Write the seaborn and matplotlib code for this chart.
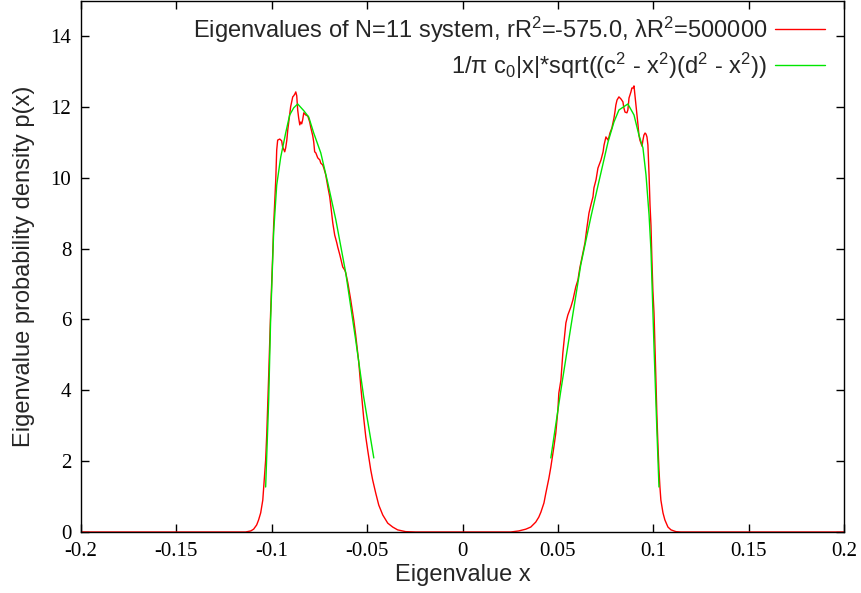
import matplotlib
matplotlib.use("Agg")
import matplotlib.pyplot as plt
import numpy as np
import pandas as pd
import seaborn as sns

# Measured eigenvalue density of the N=11 system (histogram, two bands)
hist_x = [
    -0.2000, -0.1137, -0.1110, -0.1095, -0.1079, -0.1069, -0.1058, -0.1047,
    -0.1042, -0.1032, -0.1026, -0.1016, -0.1006, -0.0995, -0.0990, -0.0979,
    -0.0974, -0.0969, -0.0958, -0.0948, -0.0943, -0.0932, -0.0927, -0.0921,
    -0.0916, -0.0906, -0.0901, -0.0890, -0.0885, -0.0879, -0.0874, -0.0869,
    -0.0864, -0.0859, -0.0853, -0.0848, -0.0843, -0.0838, -0.0832, -0.0822,
    -0.0811, -0.0801, -0.0796, -0.0785, -0.0780, -0.0775, -0.0769, -0.0759,
    -0.0748, -0.0743, -0.0733, -0.0727, -0.0717, -0.0706, -0.0696, -0.0691,
    -0.0680, -0.0670, -0.0659, -0.0654, -0.0643, -0.0633, -0.0628, -0.0617,
    -0.0612, -0.0601, -0.0586, -0.0570, -0.0560, -0.0544, -0.0533, -0.0518,
    -0.0507, -0.0497, -0.0481, -0.0471, -0.0455, -0.0439, -0.0418, -0.0392,
    -0.0366, -0.0340, -0.0298, -0.0245,
    0.0253, 0.0295, 0.0332, 0.0358, 0.0384, 0.0400, 0.0411, 0.0427,
    0.0437, 0.0453, 0.0463, 0.0479, 0.0489, 0.0500, 0.0505, 0.0516,
    0.0526, 0.0537, 0.0542, 0.0552, 0.0568, 0.0579, 0.0594, 0.0605,
    0.0615, 0.0631, 0.0642, 0.0652, 0.0663, 0.0673, 0.0684, 0.0689,
    0.0700, 0.0710, 0.0726, 0.0737, 0.0742, 0.0752, 0.0763, 0.0768,
    0.0773, 0.0783, 0.0794, 0.0799, 0.0804, 0.0810, 0.0820, 0.0831,
    0.0841, 0.0846, 0.0852, 0.0862, 0.0867, 0.0873, 0.0883, 0.0888,
    0.0894, 0.0899, 0.0904, 0.0909, 0.0915, 0.0920, 0.0925, 0.0930,
    0.0941, 0.0946, 0.0951, 0.0957, 0.0962, 0.0967, 0.0972, 0.0978,
    0.0983, 0.0988, 0.0993, 0.0998, 0.1004, 0.1009, 0.1014, 0.1019,
    0.1025, 0.1030, 0.1035, 0.1040, 0.1051, 0.1061, 0.1077, 0.1093,
    0.1119, 0.1145, 0.2000,
]
hist_p = [
    0.00, 0.00, 0.03, 0.08, 0.20, 0.34, 0.54, 0.90,
    1.27, 2.03, 2.79, 4.43, 6.18, 7.82, 8.66, 9.94,
    10.78, 11.06, 11.09, 11.04, 10.87, 10.73, 10.84, 11.06,
    11.35, 11.77, 12.00, 12.28, 12.31, 12.36, 12.42, 12.31,
    11.91, 11.69, 11.49, 11.57, 11.52, 11.63, 11.83, 11.77,
    11.74, 11.57, 11.43, 11.18, 11.01, 10.73, 10.70, 10.56,
    10.50, 10.41, 10.36, 10.27, 10.08, 9.74, 9.46, 9.23,
    8.72, 8.38, 8.16, 8.04, 7.82, 7.59, 7.48, 7.39,
    7.31, 7.03, 6.55, 5.98, 5.56, 4.80, 4.09, 3.22,
    2.68, 2.31, 1.75, 1.47, 1.10, 0.76, 0.48, 0.25,
    0.14, 0.06, 0.01, 0.00,
    0.00, 0.03, 0.08, 0.14, 0.28, 0.42, 0.56, 0.82,
    1.10, 1.52, 1.83, 2.40, 2.79, 3.44, 3.92, 4.29,
    5.05, 5.62, 5.90, 6.12, 6.35, 6.55, 6.92, 7.11,
    7.45, 7.87, 8.16, 8.58, 9.00, 9.23, 9.46, 9.71,
    9.94, 10.27, 10.50, 10.73, 10.92, 11.15, 11.06, 11.15,
    11.26, 11.40, 11.68, 11.85, 12.05, 12.19, 12.28, 12.22,
    12.14, 11.97, 11.85, 11.83, 11.91, 12.25, 12.42, 12.53,
    12.53, 12.59, 12.33, 12.05, 11.77, 11.49, 11.20, 11.06,
    10.89, 11.06, 11.20, 11.26, 11.23, 11.15, 10.92, 10.08,
    9.23, 8.66, 7.68, 6.83, 6.18, 5.28, 4.29, 3.30,
    2.40, 1.75, 1.27, 0.90, 0.54, 0.34, 0.14, 0.06,
    0.01, 0.00, 0.00,
]

# Fitted density 1/pi c0|x| sqrt((c^2-x^2)(d^2-x^2)), evaluated on each band
fit_left_x = [
    -0.1032, -0.1016, -0.1006, -0.0990, -0.0974, -0.0953, -0.0927, -0.0906,
    -0.0885, -0.0864, -0.0832, -0.0806, -0.0780, -0.0743, -0.0706, -0.0664,
    -0.0612, -0.0560, -0.0518, -0.0465,
]
fit_left_p = [
    1.27, 3.73, 5.98, 8.47, 9.79, 10.58, 11.26, 11.77,
    11.97, 12.08, 11.89, 11.71, 11.26, 10.70, 9.85, 8.81,
    7.31, 5.42, 3.81, 2.09,
]
fit_right_x = [
    0.0463, 0.0516, 0.0568, 0.0620, 0.0673, 0.0710, 0.0763, 0.0794,
    0.0820, 0.0867, 0.0899, 0.0925, 0.0946, 0.0962, 0.0978, 0.0988,
    0.1004, 0.1019, 0.1030,
]
fit_right_p = [
    2.09, 4.01, 5.79, 7.54, 8.89, 9.77, 11.01, 11.57,
    11.91, 12.08, 11.77, 11.20, 10.84, 10.08, 8.95, 7.96,
    5.22, 2.88, 1.27,
]

x_ticks = [-0.2, -0.15, -0.1, -0.05, 0.0, 0.05, 0.1, 0.15, 0.2]
x_tick_labels = ["-0.2", "-0.15", "-0.1", "-0.05", "0", "0.05", "0.1", "0.15", "0.2"]
y_ticks = [0, 2, 4, 6, 8, 10, 12, 14]
y_tick_labels = ["0", "2", "4", "6", "8", "10", "12", "14"]

label_hist = r"Eigenvalues of N=11 system, rR$^2$=-575.0, λR$^2$=500000"
label_fit = r"1/π c$_0$|x|*sqrt((c$^2$ - x$^2$)(d$^2$ - x$^2$))"

hist_df = pd.DataFrame({"x": hist_x, "p": hist_p})
fit_df = pd.DataFrame({
    "x": fit_left_x + fit_right_x,
    "p": fit_left_p + fit_right_p,
    "band": ["left"] * len(fit_left_x) + ["right"] * len(fit_right_x),
})

sns.set_style("ticks")
plt.rcParams["font.family"] = ["Liberation Sans", "DejaVu Sans"]
plt.rcParams["mathtext.fontset"] = "custom"
plt.rcParams["mathtext.rm"] = "Liberation Sans"
plt.rcParams["mathtext.it"] = "Liberation Sans"
plt.rcParams["mathtext.bf"] = "Liberation Sans"

fig = plt.figure(figsize=(8.61, 5.93), dpi=100)
ax = fig.add_axes([81 / 861, 61 / 593, 763 / 861, 531.5 / 593])

sns.lineplot(data=hist_df, x="x", y="p", ax=ax, color="#ff0000",
             linewidth=1.0, estimator=None, sort=False)
sns.lineplot(data=fit_df, x="x", y="p", units="band", ax=ax, color="#00e600",
             linewidth=1.0, estimator=None, sort=False)

lines = ax.get_lines()
ax.legend(handles=[lines[0], lines[1]], labels=[label_hist, label_fit],
          loc="upper right", bbox_to_anchor=(1 - 19 / 763, 1 - 14 / 531.5),
          frameon=False, markerfirst=False,
          alignment="right", fontsize=17, handlelength=2.1,
          handletextpad=0.35, borderaxespad=0.0, borderpad=0.0,
          labelspacing=0.25)

ax.set_xlim(-0.2, 0.2)
ax.set_ylim(0, 15)
ax.set_xticks(x_ticks)
ax.set_xticklabels(x_tick_labels)
ax.set_yticks(y_ticks)
ax.set_yticklabels(y_tick_labels)
ax.tick_params(direction="in", top=True, right=True, length=6, width=1,
               colors="black", pad=7)
for lab in ax.get_xticklabels() + ax.get_yticklabels():
    lab.set_family(["Liberation Serif", "DejaVu Serif"])
    lab.set_fontsize(15)

for side in ["top", "bottom", "left", "right"]:
    ax.spines[side].set_visible(True)
    ax.spines[side].set_color("black")
    ax.spines[side].set_linewidth(1.0)

ax.set_xlabel("Eigenvalue x", fontsize=17, labelpad=2)
ax.set_ylabel("Eigenvalue probability density p(x)", fontsize=17, labelpad=11)

fig.savefig("out.png", dpi=100)
